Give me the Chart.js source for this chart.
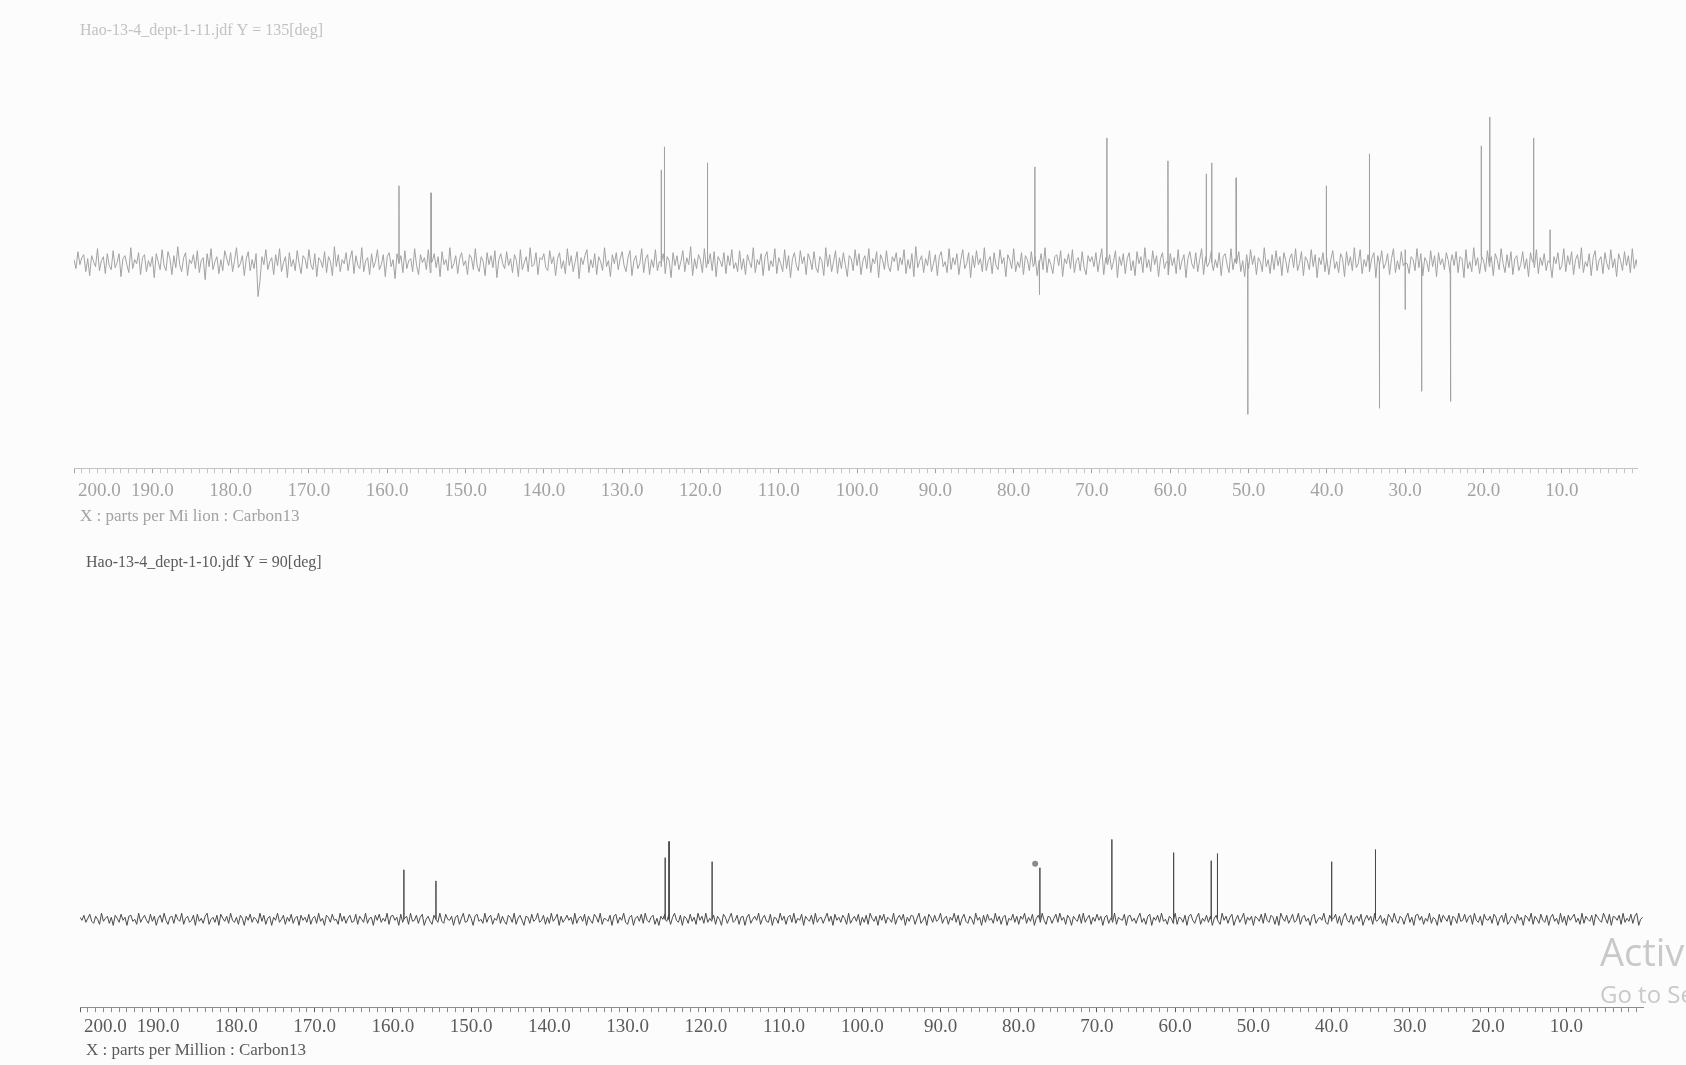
<!DOCTYPE html>
<html>
<head>
<meta charset="utf-8">
<script src="https://cdn.jsdelivr.net/npm/chart.js@4.4.1/dist/chart.umd.min.js"></script>
<style>
  html, body { margin: 0; padding: 0; background: #fcfcfc; overflow: hidden; }
  body { width: 1686px; height: 1065px; position: relative; }
  canvas { position: absolute; left: 0; }
  #dept135 { top: 0; }
  #dept90 { top: 532px; }
  .wm { position: absolute; left: 1600px; color: #c9c9c9; font-family: "Open Sans", sans-serif; white-space: nowrap; }
</style>
</head>
<body>
<canvas id="dept135" width="1686" height="532"></canvas>
<canvas id="dept90" width="1686" height="533"></canvas>
<div class="wm" style="top:925px;font-size:38px;">Activate Windows</div>
<div class="wm" style="top:977px;font-size:24px;">Go to Settings</div>
<script>
// baseline samples every 0.25 ppm starting at 200 ppm
const START_PPM = 200;
const STEP_PPM = 0.25;

// DEPT-135 (top)
const topTitle = "Hao-13-4_dept-1-11.jdf Y = 135[deg]";
const topAxisTitle = "X : parts per Mi lion : Carbon13";
const topPeakPpm = [158.5, 154.4, 125.0, 124.6, 119.1, 77.3, 76.7, 68.1, 60.3, 55.4, 54.7, 51.6, 50.1, 40.1, 34.6, 33.3, 30.0, 27.9, 24.2, 20.3, 19.2, 13.6, 11.5];
const topPeakInt = [77, 70, 93, 116, 100, 96, -32, 125, 102, 89, 100, 85, -152, 77, 109, -146, -47, -129, -139, 117, 146, 125, 33];
const topNoise = [
  3,-6,11,-2,5,8,-9,4,-13,7,1,-4,14,-8,2,6,-11,9,-3,-7,
  12,-5,0,9,-14,4,7,-2,-10,15,-6,3,-1,10,-12,5,8,-9,2,-4,
  6,-15,9,1,-7,13,-3,-8,11,4,-12,7,-5,16,-2,-9,5,10,-13,3,
  -1,8,-6,12,-10,2,5,-17,9,-4,14,-7,1,6,-11,3,-8,12,4,-3,
  10,-9,2,15,-5,-1,7,-13,4,11,-8,3,-6,9,-34,-18,6,-2,13,-7,
  1,5,-12,8,-3,14,-9,0,6,-15,10,-4,3,-8,12,-1,-11,7,4,-6,
  13,-2,-7,9,-14,5,2,-5,11,-10,6,1,-13,16,-4,8,-9,3,-1,10,
  -8,4,12,-11,7,-3,-6,15,-9,2,5,-12,9,-5,1,13,-7,-2,8,-14,
  6,10,-4,3,-16,9,-1,7,-10,12,-6,2,4,-9,14,-3,-12,8,0,5,
  -7,13,-10,1,9,-5,6,-14,11,-2,3,-8,15,-6,-1,7,-11,4,10,-3,
  2,-12,8,5,-7,14,-4,-9,6,1,-13,10,-2,7,-5,12,-15,3,9,-1,
  -6,11,-3,4,-10,8,2,-14,13,-7,0,6,-9,15,-4,-2,10,-12,5,3,
  9,-5,-8,12,-1,6,-13,4,10,-6,2,-11,14,-3,7,-9,1,11,-16,5,
  -2,7,13,-10,3,-5,9,-12,6,1,-8,15,-4,2,-14,8,-1,10,-7,4,
  11,-3,-9,5,12,-13,2,7,-6,-1,14,-10,4,8,-12,3,-5,13,-8,1,
  -4,9,-11,6,2,-15,10,-3,7,-7,1,12,-9,5,-2,16,-13,4,-6,8,
  3,-10,14,-5,-1,9,-8,11,-14,6,2,-4,10,-11,7,-3,13,-6,0,-9,
  12,-7,4,-12,8,1,-5,15,-10,3,-2,9,-13,6,11,-8,2,-4,14,-11,
  5,-1,-9,13,-6,7,-15,4,10,-3,-8,12,-1,6,-12,9,3,-7,11,-5,
  -10,6,2,-13,15,-4,8,-9,1,12,-11,5,-6,10,-2,-14,7,4,-8,13,
  -3,9,-12,2,7,-6,14,-10,4,-1,11,-15,8,3,-7,12,-4,-9,6,1,
  10,-8,5,-2,13,-11,3,-6,9,-14,16,-5,2,7,-10,4,-3,12,-9,-1,
  8,-13,6,11,-4,1,-10,14,-7,5,-2,9,-12,3,13,-6,-1,10,-15,7,
  -5,12,-2,4,-9,15,-8,2,6,-11,10,-3,-7,13,-1,5,-14,8,3,-6,
  14,-9,1,-5,10,-12,7,3,-8,11,-4,6,-13,2,9,-7,15,-10,4,-2,
  -11,6,8,-3,12,-14,4,-1,9,-6,13,-10,2,5,-8,11,-5,-12,7,1,
  6,-4,10,-9,3,14,-12,5,-2,8,-7,1,12,-15,6,-3,9,-11,4,10,
  -8,2,-13,11,-1,6,-10,15,-5,3,-9,12,-2,7,-14,4,10,-6,1,-12,
  9,-3,5,-11,13,-7,2,8,-15,4,11,-1,-6,10,-9,3,14,-12,6,-4,
  1,12,-8,3,-5,10,-13,6,9,-2,-10,14,-7,4,-1,11,-9,2,-14,8,
  -6,13,-2,7,-12,5,1,-9,15,-4,3,-11,8,-7,12,-3,6,-13,10,2,
  -10,4,9,-5,14,-8,-1,11,-13,6,2,-7,13,-4,8,-15,5,-2,10,-9,
  7,-12,3,12,-6,1,-10,9,4,-14,11,-3,6,-8,15,-5,-1,13,-11,3,
  -4,8,-9,5,10,-15,7,-2,12,-6,-1,9,-12,4,14,-10,2,-7,11,-3,
  13,-1,-11,6,3,-8,14,-5,9,-13,5,1,-9,12,-4,7,-14,10,-2,4,
  -7,10,2,-12,8,-3,11,-10,6,4,-15,13,-6,1,-9,15,-3,5,-11,7,
  2,-9,12,-4,6,-13,9,3,-7,14,-1,-10,8,-5,11,-12,4,7,-8,-2,
  11,-6,4,-14,10,1,-5,13,-11,5,-3,9,-8,2,12,-15,6,-1,10,-7,
  -3,14,-9,7,-2,11,-12,3,8,-6,15,-10,1,-4,9,-13,5,12,-8,2,
  6,-11,10,-1,-7,13,-5,4,-14,9,2,-8,11,-3,7,-10,14,-6,3,-9
];

// DEPT-90 (bottom)
const bottomTitle = "Hao-13-4_dept-1-10.jdf Y = 90[deg]";
const bottomAxisTitle = "X : parts per Million : Carbon13";
const bottomPeakPpm = [158.6, 154.5, 125.2, 124.7, 119.2, 77.3, 68.1, 60.2, 55.4, 54.6, 40.0, 34.4];
const bottomPeakInt = [49, 38, 61, 77, 57, 51, 79, 66, 58, 65, 57, 69];
const bottomMarkPpm = [77.9];
const bottomMarkInt = [55];
const bottomNoise = [
  2,-1,4,-3,1,5,-2,-4,3,0,-5,6,-2,1,3,-4,2,-6,4,1,
  -3,5,-1,2,-6,3,4,-2,0,-5,6,-3,1,4,-1,-4,5,-2,3,-6,
  1,4,-3,6,-1,-5,2,3,-4,5,0,-2,6,-5,1,3,-3,-1,4,-6,
  5,-2,1,-4,3,6,-5,0,2,-3,4,-6,5,1,-2,3,-4,6,-1,-3,
  2,-5,4,1,-6,3,-1,5,-3,2,0,-4,6,-2,4,-5,1,3,-6,2,
  -1,6,-3,0,4,-5,2,-2,5,-4,1,3,-6,4,-1,2,-3,5,-5,1,
  3,-4,6,-2,1,-6,4,2,-3,5,-1,0,-5,6,-2,3,-4,1,4,-3,
  -2,5,-5,3,0,-3,6,-4,1,2,-6,4,-1,5,-3,1,-2,6,-5,3,
  4,-1,2,-6,5,-3,1,3,-5,6,-2,-1,4,-4,2,5,-6,0,3,-2,
  -5,4,1,-3,6,-2,-4,5,0,-1,3,-6,2,4,-5,1,6,-3,-2,5,
  1,-6,3,5,-2,0,-4,6,-3,2,4,-5,1,-1,6,-4,3,-2,-5,4,
  2,-3,6,-5,1,4,-1,-6,3,2,-4,5,-2,0,6,-3,-1,4,-5,2,
  -4,6,-2,1,5,-6,3,-3,0,4,-1,2,-5,6,-4,1,3,-2,5,-6,
  3,-1,-4,5,2,-3,6,-5,1,0,-2,4,-6,3,5,-4,2,-1,6,-3,
  -5,2,4,-6,1,3,-2,5,-4,6,-1,-3,2,4,-5,1,-6,3,0,5,
  -2,4,-5,2,6,-1,-3,4,-6,3,1,-4,5,-2,2,-5,6,-1,3,-4,
  6,-3,1,-2,4,-5,3,0,-6,5,2,-4,1,6,-3,-1,4,-5,2,3,
  -6,2,5,-4,0,3,-1,6,-5,1,4,-2,-3,5,-6,2,1,-4,6,-1,
  3,-5,2,4,-3,6,-4,1,-1,5,-6,3,0,-2,4,-5,6,-3,1,2,
  -4,1,6,-2,3,-6,5,-1,2,-3,4,1,-5,6,-4,0,3,-2,5,-6,
  2,-3,4,-5,6,1,-2,3,-6,4,-1,5,-4,2,0,-3,6,-5,1,4,
  -1,5,-6,2,-2,4,3,-5,1,6,-4,-1,3,-6,5,2,-3,4,-2,0,
  6,-4,1,3,-5,2,-1,6,-3,4,-6,1,5,-2,-4,3,0,-5,6,-1,
  2,-6,4,-3,5,-1,1,-4,6,-2,3,-5,2,4,-6,1,-1,5,-3,3,
  -5,3,0,6,-4,2,-2,5,-6,1,4,-3,6,-1,-5,3,2,-4,1,5,
  -3,6,-1,2,-5,4,1,-6,3,0,-2,5,-4,6,-3,1,4,-5,2,-2,
  5,-1,3,-6,2,4,-4,1,-3,6,-5,2,0,-1,5,-6,3,4,-2,1,
  -4,2,6,-3,1,-5,3,5,-6,2,-1,4,-3,6,-2,0,-5,3,1,-4,
  6,-5,2,1,-3,4,-6,3,5,-1,-4,2,6,-5,1,-2,4,-3,3,-6,
  1,4,-2,-5,6,-1,3,-4,2,5,-6,0,4,-3,1,6,-5,2,-1,3,
  -6,3,1,-2,5,-4,6,-1,-3,4,2,-5,3,-6,6,1,-2,4,-4,0,
  5,-3,-1,6,-5,2,4,-2,1,-6,3,5,-4,0,2,-1,6,-3,-5,4,
  -2,1,5,-4,3,-6,2,6,-1,-3,4,-5,1,3,-2,5,-6,0,4,-1,
  3,-5,6,-2,0,4,-4,1,-6,5,2,-3,6,-1,-4,3,1,-5,2,6,
  -3,2,-6,4,5,-1,3,-5,1,-2,6,-4,2,0,-6,5,-3,4,1,-2,
  4,-6,3,1,-4,6,-2,-1,5,-3,2,4,-5,6,-1,-3,3,-6,5,0,
  -1,3,-4,5,2,-6,1,4,-3,6,-5,-2,3,1,-4,5,-1,2,-6,4,
  2,-2,6,-5,3,0,-4,5,-1,-3,4,-6,2,5,-2,1,-5,6,-3,3,
  -6,4,-1,2,5,-3,1,-5,6,-4,3,0,-2,4,-6,5,2,-1,-3,6,
  1,-4,5,-6,3,2,-1,4,-5,6,-3,1,-2,5,-4,3,6,-6,0,2
];

function buildSpectrum(noise, peakPpm, peakInt) {
  const pts = noise.map((v, i) => ({ x: START_PPM - i * STEP_PPM, y: v }));
  peakPpm.forEach((p, k) => {
    pts.push({ x: p + 0.01, y: 0 }, { x: p, y: peakInt[k] }, { x: p - 0.01, y: 0 });
  });
  return pts.sort((a, b) => b.x - a.x);
}

// file name on top, axis caption under the ticks, and the "200.0" label
// which the plotter prints to the right of its tick
const panelText = {
  id: "panelText",
  afterDraw(chart, args, opts) {
    const sx = chart.scales.x;
    const ctx = chart.ctx;
    ctx.save();
    ctx.textAlign = "left";
    ctx.textBaseline = "middle";
    ctx.font = "16px 'Liberation Serif'";
    ctx.fillStyle = opts.titleColor;
    ctx.fillText(opts.title, sx.left + 6, 31);
    ctx.font = "19px 'Liberation Serif'";
    ctx.fillStyle = opts.color;
    ctx.fillText("200.0", sx.left + 4, sx.top + opts.labelOffset);
    ctx.font = "17px 'Liberation Serif'";
    ctx.fillText(opts.axisTitle, sx.left + 6, sx.top + opts.captionOffset);
    ctx.restore();
  },
};

function makeChart(id, cfg) {
  const ctx = document.getElementById(id).getContext("2d");
  return new Chart(ctx, {
    type: "line",
    data: {
      datasets: [
        {
          data: buildSpectrum(cfg.noise, cfg.peakPpm, cfg.peakInt),
          borderColor: cfg.lineColor,
          borderWidth: 1,
          pointRadius: 0,
          tension: 0,
        },
      ].concat(cfg.extra || []),
    },
    options: {
      responsive: false,
      animation: false,
      devicePixelRatio: 1,
      layout: { padding: cfg.padding },
      plugins: {
        legend: { display: false },
        tooltip: { enabled: false },
        title: { display: false },
        panelText: {
          title: cfg.title,
          axisTitle: cfg.axisTitle,
          color: cfg.textColor,
          titleColor: cfg.titleColor,
          labelOffset: 17 + cfg.tickPad,
          captionOffset: cfg.captionOffset,
        },
      },
      scales: {
        x: {
          type: "linear",
          reverse: true,
          min: cfg.xMin,
          max: 200,
          border: { display: true, color: cfg.axisColor, width: 1 },
          grid: {
            drawOnChartArea: false,
            drawTicks: true,
            tickLength: 5,
            tickColor: (c) => (Math.round(c.tick.value) % 10 === 0 ? cfg.textColor : cfg.axisColor),
          },
          ticks: {
            stepSize: 1,
            autoSkip: false,
            maxRotation: 0,
            includeBounds: false,
            padding: cfg.tickPad,
            color: cfg.textColor,
            font: { family: "Liberation Serif", size: 19 },
            callback: (v) => {
              const r = Math.round(v);
              return r % 10 === 0 && r > 0 && r < 200 ? r.toFixed(1) : "";
            },
          },
        },
        y: { display: false, min: cfg.yMin, max: cfg.yMax },
      },
    },
    plugins: [panelText],
  });
}

makeChart("dept135", {
  title: topTitle,
  axisTitle: topAxisTitle,
  noise: topNoise,
  peakPpm: topPeakPpm,
  peakInt: topPeakInt,
  xMin: 0.4,
  yMin: -206,
  yMax: 163,
  padding: { left: 74, right: 49, top: 100, bottom: 24 },
  tickPad: 6,
  captionOffset: 48,
  lineColor: "#a2a2a2",
  axisColor: "#c4c4c4",
  textColor: "#a3a3a3",
  titleColor: "#c2c2c2",
});

makeChart("dept90", {
  title: bottomTitle,
  axisTitle: bottomAxisTitle,
  noise: bottomNoise,
  peakPpm: bottomPeakPpm,
  peakInt: bottomPeakInt,
  extra: [
    {
      data: bottomMarkPpm.map((p, i) => ({ x: p, y: bottomMarkInt[i] })),
      showLine: false,
      pointRadius: 3,
      pointBackgroundColor: "#8a8a8a",
      pointBorderWidth: 0,
    },
  ],
  xMin: 0.2,
  yMin: -87,
  yMax: 316,
  padding: { left: 80, right: 43, top: 68, bottom: 24 },
  tickPad: 3,
  captionOffset: 43,
  lineColor: "#4a4a4a",
  axisColor: "#8c8c8c",
  textColor: "#5a5a5a",
  titleColor: "#5a5a5a",
});
</script>
</body>
</html>
